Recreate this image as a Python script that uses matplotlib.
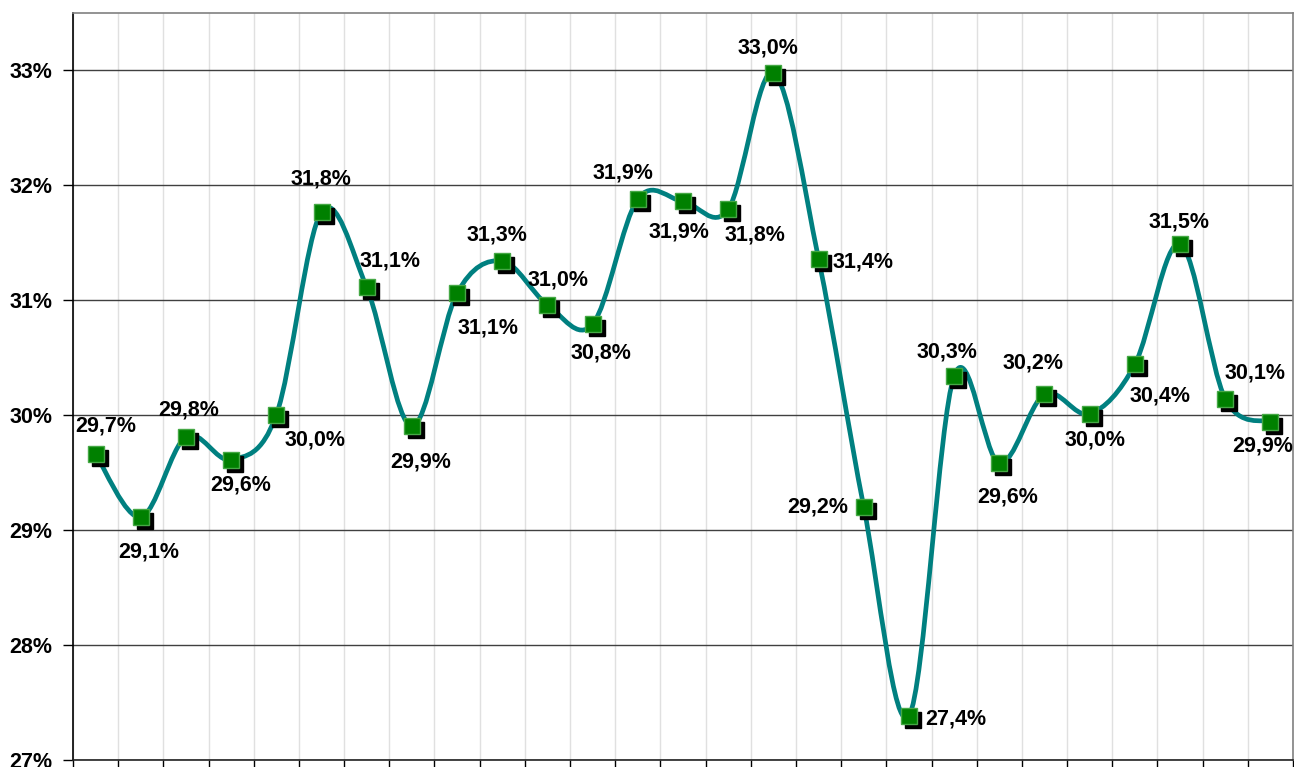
import numpy as np
import matplotlib
matplotlib.use("Agg")
import matplotlib.pyplot as plt
from matplotlib.path import Path
from matplotlib.patches import PathPatch
from matplotlib.ticker import FuncFormatter
import matplotlib.transforms as mtransforms

# valores da série (%)
values = [29.66, 29.11, 29.81, 29.61, 30.00, 31.77, 31.11, 29.90, 31.06, 31.34,
          30.96, 30.79, 31.88, 31.86, 31.79, 32.98, 31.36, 29.20, 27.38, 30.34,
          29.58, 30.18, 30.01, 30.44, 31.49, 30.14, 29.94]
y_ticks = [27, 28, 29, 30, 31, 32, 33]

# deslocamento dos rótulos em pixels (dx, dy)
label_offsets = [(10, 28), (8, -35), (3, 27), (10, -25), (39, -25), (-1, 33), (23, 26),
                 (9, -36), (31, -35), (-5, 26), (11, 25), (8, -29), (-15, 26), (-4, -31),
                 (27, -26), (-5, 25), (44, -3), (-46, 0), (47, -3), (-7, 24), (8, -34),
                 (-11, 31), (5, -26), (25, -32), (-1, 22), (30, 26), (-8, -24)]

plt.rcParams['font.family'] = ['Liberation Sans', 'DejaVu Sans']
plt.rcParams['font.weight'] = 'bold'

fig = plt.figure(figsize=(12.94, 7.67), dpi=100)
ax = fig.add_axes([73 / 1294, 7.5 / 767, 1220 / 1294, 746.5 / 767])

x = np.arange(len(values))
y = np.array(values)

# curva suavizada tipo Excel (bezier)
pts = np.column_stack([x, y])
verts = [pts[0]]
codes = [Path.MOVETO]
n = len(pts)
for i in range(n - 1):
    p0 = pts[max(i - 1, 0)]
    p1 = pts[i]
    p2 = pts[i + 1]
    p3 = pts[min(i + 2, n - 1)]
    c1 = p1 + (p2 - p0) / 6
    c2 = p2 - (p3 - p1) / 6
    verts += [c1, c2, p2]
    codes += [Path.CURVE4] * 3
ax.add_patch(PathPatch(Path(verts, codes), fill=False, edgecolor='#008080',
                       lw=3.4, capstyle='round', joinstyle='round', zorder=3))

# sombra dos marcadores
shadow = mtransforms.offset_copy(ax.transData, fig=fig, x=4, y=-4, units='dots')
ax.plot(x, y, ls='none', marker='s', ms=11.3, color='black', mec='black',
        transform=shadow, zorder=4)
ax.plot(x, y, ls='none', marker='s', ms=11.3, color='#008000', mec='#45a845',
        mew=1, zorder=5)

for xi, yi, (dx, dy) in zip(x, y, label_offsets):
    ax.annotate(f"{yi:.1f}%".replace('.', ','), (xi, yi), xytext=(dx, dy),
                textcoords='offset pixels', ha='center', va='center',
                fontsize=15.5, fontweight='bold', zorder=6)

ax.set_xlim(-0.5, len(values) - 0.5)
ax.set_ylim(27, 33.5)
ax.set_yticks(y_ticks)
ax.yaxis.set_major_formatter(FuncFormatter(lambda v, p: f"{v:.0f}%"))
ax.tick_params(axis='y', labelsize=15.5, length=7, width=1, pad=8, colors='black')
ax.set_xticks(np.arange(-0.5, len(values), 1.0))
ax.set_xticklabels([])
ax.tick_params(axis='x', length=8, width=1, direction='out')

ax.grid(axis='y', color='#404040', lw=1)
ax.grid(axis='x', color='#e0e0e0', lw=1)
ax.set_axisbelow(True)

ax.spines['left'].set_color('black')
ax.spines['bottom'].set_color('#222222')
ax.spines['top'].set_color('#808080')
ax.spines['right'].set_color('#808080')
for s in ax.spines.values():
    s.set_linewidth(1.2)

fig.savefig('out.png', dpi=100)
